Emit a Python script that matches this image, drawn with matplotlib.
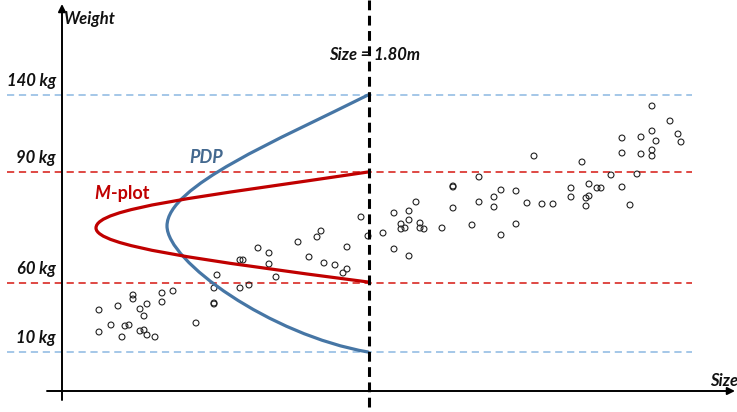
import matplotlib.pyplot as plt
from matplotlib.font_manager import FontProperties
from matplotlib.path import Path
from matplotlib.patches import PathPatch

# schematic chart: coordinates are in "picture units" (x = size, y = weight, y grows downward)
ref_labels = ["140 kg", "90 kg", "60 kg", "10 kg"]
ref_y = [95, 172, 283, 352]
ref_colors = ["#9dc3e6", "#dc3a35", "#dc3a35", "#9dc3e6"]

size_cut = 369

# curve shapes as cubic bezier control points (end, ctrl, ctrl, vertex, ctrl, ctrl, end)
pdp_x = [368, 278, 167, 167, 167, 270, 368]
pdp_y = [95, 140, 186, 226, 261, 335, 352]

mplot_x = [368, 200, 96, 96, 96, 200, 368]
mplot_y = [172, 197, 208, 228, 246, 260, 282]

obs_x = [99, 118, 133, 133, 147, 140, 144, 162, 162, 173, 99, 111, 125, 129, 122, 140, 144, 147, 155,
         196, 214, 214, 214, 217, 240, 249, 240, 243,
         258, 269, 269, 276, 298, 309, 317, 321, 324, 335, 347, 347, 343, 361, 368,
         383, 394, 394, 401, 401, 405, 409, 409, 409, 416, 420, 420, 424, 442, 453, 453, 453, 472,
         479, 479, 494, 494, 501, 501, 516, 516, 527, 534, 542, 553, 571, 571, 582, 586, 586, 589,
         589, 597, 601, 611, 622, 622, 622, 630, 637, 641, 641, 652, 652, 652, 652, 656, 670, 678, 681]
obs_y = [310, 306, 295, 299, 304, 309, 316, 293, 302, 291, 332, 325, 326, 325, 337, 331, 330, 335, 337,
         323, 288, 303, 304, 275, 288, 285, 260, 260,
         248, 253, 264, 277, 242, 257, 237, 231, 263, 265, 247, 269, 273, 217, 236,
         233, 213, 249, 224, 229, 228, 211, 220, 256, 202, 223, 228, 229, 228, 186, 187, 208, 225,
         177, 202, 197, 207, 190, 235, 191, 224, 203, 156, 204, 204, 188, 197, 162, 198, 206, 184,
         196, 188, 188, 175, 138, 153, 187, 205, 174, 137, 154, 106, 131, 150, 156, 141, 121, 134, 142]

fam = ["Lato", "DejaVu Sans"]


def bi(size=12, style="italic"):
    return FontProperties(family=fam, weight="bold", style=style, size=size)


def bezier(ax, xs, ys, color):
    codes = [Path.MOVETO] + [Path.CURVE4] * (len(xs) - 1)
    patch = PathPatch(Path(list(zip(xs, ys)), codes), facecolor="none", edgecolor=color,
                      lw=2.3, capstyle="round", zorder=4)
    ax.add_patch(patch)


fig = plt.figure(figsize=(7.37, 4.12), dpi=100)
ax = fig.add_axes([0, 0, 1, 1])
ax.set_xlim(0, 737)
ax.set_ylim(412, 0)
ax.axis("off")

# reference levels
for lab, y, c in zip(ref_labels, ref_y, ref_colors):
    ax.plot([7, 692], [y, y], color=c, lw=1.3, dashes=(4, 2.6), zorder=1)
    ax.text(56, y - 6, lab, fontproperties=bi(), ha="right", va="bottom", color="#111111")

# axes arrows
arrow = dict(arrowstyle="-|>", mutation_scale=11, lw=1.4, color="black", shrinkA=0, shrinkB=0)
ax.annotate("", xy=(62, 4), xytext=(62, 400), arrowprops=arrow, zorder=3)
ax.annotate("", xy=(735, 391), xytext=(47, 391), arrowprops=arrow, zorder=3)
ax.text(63, 19, "Weight", fontproperties=bi(), ha="left", va="center", color="#111111")
ax.text(710, 381, "Size", fontproperties=bi(), ha="left", va="center", color="#111111")

# observations
ax.scatter(obs_x, obs_y, s=18, facecolors="none", edgecolors="#222222", linewidths=0.8, zorder=2)

# curves
bezier(ax, pdp_x, pdp_y, "#4676a5")
bezier(ax, mplot_x, mplot_y, "#c00000")

# vertical cut
ax.plot([size_cut, size_cut], [0, 412], color="black", lw=2.2, dashes=(3.2, 1.8), zorder=5)
ax.text(329, 55, "Size = 1.80m", fontproperties=bi(), ha="left", va="center", color="#111111", zorder=6)

ax.text(189, 157, "PDP", fontproperties=bi(13), color="#44698f", ha="left", va="center")
m = ax.text(94, 193, "M", fontproperties=bi(13), color="#c00000", ha="left", va="center")
ax.annotate("-plot", xy=(1, 0.5), xycoords=m, xytext=(1, 0), textcoords="offset points",
            fontproperties=bi(13, "normal"), color="#c00000", ha="left", va="center")

fig.savefig("out.png", dpi=100)
